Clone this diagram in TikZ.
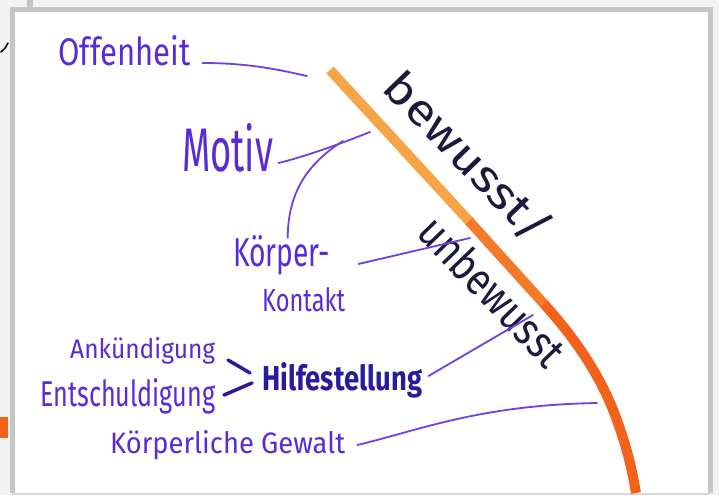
\documentclass[tikz,border=0pt]{standalone}
\usepackage{fontspec}
\setmainfont{Fira Sans}
\usepackage{graphicx}
\definecolor{pen}{HTML}{5A2AD8}
\definecolor{penline}{HTML}{7040E0}
\definecolor{inkdark}{HTML}{2A1A9C}
\definecolor{ink}{HTML}{1C1A3C}
\definecolor{framegray}{HTML}{C6C6C6}
\definecolor{outside}{HTML}{F2F3F1}
\definecolor{orangeA}{HTML}{F6A445}
\definecolor{orangeB}{HTML}{F47A2A}
\definecolor{orangeC}{HTML}{F2621A}
\newcommand{\fitt}[3]{\resizebox{#1pt}{#2pt}{#3}}
\tikzset{
  lbl/.style={inner sep=0pt, anchor=base west, text=pen},
  conn/.style={draw=penline, line width=1.8pt, line cap=round},
  chev/.style={draw=inkdark, line width=3.5pt, line cap=round},
  marker/.style={line width=10pt, line cap=butt, line join=round},
  frameline/.style={draw=framegray, line width=5pt},
}
\begin{document}
\begin{tikzpicture}[x=1pt,y=-1pt]
\useasboundingbox (0,0) rectangle (719,495);
% page background outside the frame
\fill[outside] (0,0) rectangle (719,495);
\fill[white] (12,10) rectangle (710,493);
\fill[framegray] (27,0) rectangle (33,8);
% frame
\draw[frameline] (12,493) -- (12,10) -- (710,10) -- (710,493);
\draw[draw=framegray!70, line width=2pt] (12,494) -- (710,494);
% stray marks outside the frame
\fill[orangeC] (0,417) rectangle (8,438);
\draw[black, line width=1.5pt, line cap=round] (1,52) .. controls (4,50) and (6,47) .. (8,43);

% orange divider
\draw[marker, orangeA] (330,70) -- (470,222);
\draw[marker, orangeB] (469,221) -- (545,305);
\draw[marker, orangeC] (544,304) .. controls (575,338) and (600,375) .. (615,415)
   .. controls (628,450) and (632,470) .. (636,493);

% rotated labels
\node[inner sep=0pt, rotate=-46, text=ink] (bew) at (468,157) {\fitt{218}{36}{bewusst/}};
\node[inner sep=0pt, rotate=-46, text=ink] (unb) at (493,291) {\fitt{188}{34}{unbewusst}};

% left labels
\node[lbl] (off) at (58,65) {\fitt{132}{30}{Offenheit}};
\node[lbl] (mot) at (182,171) {\fitt{91}{48}{Motiv}};
\node[lbl] (kor) at (233,266) {\fitt{97}{31}{Körper-}};
\node[lbl] (kon) at (262,311) {\fitt{83}{24}{Kontakt}};
\node[lbl] (ank) at (70,358) {\fitt{145}{21}{Ankündigung}};
\node[lbl] (ent) at (40,406) {\fitt{175}{28}{Entschuldigung}};
\node[lbl, text=inkdark] (hil) at (262,390) {\fitt{160}{28}{\bfseries Hilfestellung}};
\node[lbl] (gew) at (110,453) {\fitt{235}{23}{Körperliche Gewalt}};

% connector end points on the divider
\coordinate (offE) at (307,76);
\coordinate (motE) at (370,132);
\coordinate (motB) at (343,141);
\coordinate (korE) at (470,238);
\coordinate (hilE) at (533,315);
\coordinate (gewE) at (597,403);
\coordinate (chA1) at (228,360);
\coordinate (chA2) at (250,373);
\coordinate (chB1) at (224,395);
\coordinate (chB2) at (252,383);

% connectors
\draw[conn] ([xshift=12pt,yshift=2pt]off.base east) .. controls (250,63) and (280,70) .. (offE);
\draw[conn] ([xshift=5pt,yshift=8pt]mot.base east) .. controls (300,158) and (335,146) .. (motE);
\draw[conn] (motB) .. controls (305,165) and (288,195) .. ([xshift=6pt,yshift=-3pt]kor.north);
\draw[conn] ([xshift=28pt,yshift=2pt]kor.base east) -- (korE);
\draw[conn] ([xshift=6pt,yshift=14pt]hil.base east) -- (hilE);
\draw[conn] ([xshift=12pt,yshift=8pt]gew.base east) .. controls (420,430) and (480,405) .. (gewE);
\draw[chev] (chA1) -- (chA2);
\draw[chev] (chB1) -- (chB2);
\end{tikzpicture}
\end{document}
